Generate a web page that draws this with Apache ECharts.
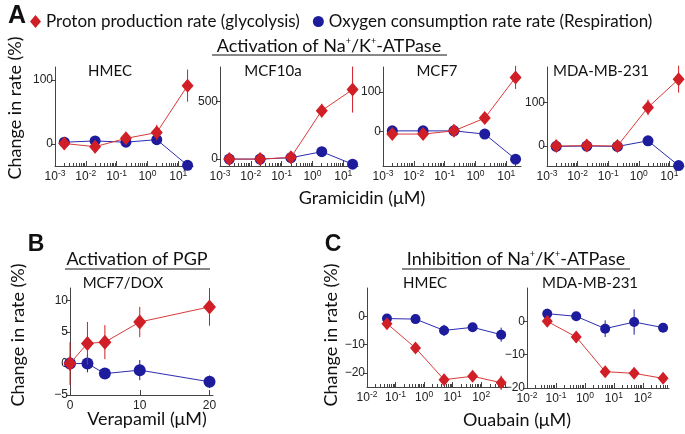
<!DOCTYPE html>
<html><head><meta charset="utf-8">
<script src="https://cdn.jsdelivr.net/npm/echarts@6/dist/echarts.min.js"></script>
<style>html,body{margin:0;padding:0;background:#fff}#c{width:685px;height:434px}</style>
</head><body><div id="c"></div>
<script>
// ---------- DATA ----------
const gramicidinDoses = [0.002, 0.02, 0.2, 2, 20];
const gramicidinTicks = [0.001, 0.01, 0.1, 1, 10];

const hmecProton = [1, -4, 9, 18, 91];
const hmecProtonErr = [10, 10, 7, 12, 25];
const hmecOxygen = [3, 5, 3, 7, -33];
const hmecOxygenErr = [3, 3, 3, 3, 3];

const mcf10aProton = [0, 0, 15, 421, 604];
const mcf10aProtonErr = [20, 20, 20, 60, 200];
const mcf10aOxygen = [0, 0, 12, 64, -44];
const mcf10aOxygenErr = [10, 10, 10, 15, 10];

const mcf7Proton = [-6, -6, 2, 34, 136];
const mcf7ProtonErr = [8, 8, 6, 10, 29];
const mcf7Oxygen = [2, 2, 2, -6, -69];
const mcf7OxygenErr = [4, 4, 4, 5, 6];

const mdaProton = [0, 1, 0, 89, 154];
const mdaProtonErr = [8, 8, 6, 18, 31];
const mdaOxygen = [-1, 0, -1, 12, -45];
const mdaOxygenErr = [4, 4, 4, 5, 5];

const verapamilDoses = [0, 2.5, 5, 10, 20];
const verapamilTicks = [0, 10, 20];
const pgpProton = [0, 3.2, 3.4, 6.6, 9.0];
const pgpProtonErr = [3.4, 3.4, 2.7, 2.4, 3.0];
const pgpOxygen = [0, 0, -1.6, -1.05, -2.9];
const pgpOxygenErr = [0.4, 1.4, 0.6, 1.6, 1.0];

const ouabainDoses = [0.05, 0.5, 5, 50, 500];
const ouabainTicks = [0.01, 0.1, 1, 10, 100];
const ouaHmecProton = [-2.6, -11.2, -22.4, -21.2, -23.5];
const ouaHmecProtonErr = [1.5, 2, 2, 1.5, 2.5];
const ouaHmecOxygen = [-0.8, -1, -5, -3.9, -6.5];
const ouaHmecOxygenErr = [1, 1.5, 2, 1, 2.5];
const ouaMdaProton = [0, -4.7, -15.1, -15.6, -17.1];
const ouaMdaProtonErr = [1.2, 1.5, 1.5, 1.5, 1.2];
const ouaMdaOxygen = [2.3, 1.5, -2.2, -0.2, -1.9];
const ouaMdaOxygenErr = [1.5, 1, 2.5, 3.8, 1.2];

const protonName = 'Proton production rate (glycolysis)';
const oxygenName = 'Oxygen consumption rate rate (Respiration)';

// ---------- LAYOUT ----------
const RED = '#d01f26', RED_LINE = '#d83a3a';
const BLUE = '#1c1c9c', BLUE_LINE = '#2b2bb0';
const AX = '#444';
const TXT = 'Lato, "Noto Sans", sans-serif';
const NUM = '"Liberation Sans", Arial, sans-serif';

const panels = [
  {grid:{left:55,top:67,width:138,height:99}, log:true, xMin:0.001, xMax:30, xTicks:gramicidinTicks, yMin:-34, yMax:120, yTicks:[0,100],
   x:gramicidinDoses, r:hmecProton, re:hmecProtonErr, b:hmecOxygen, be:hmecOxygenErr, ds:[12,14], cs:11},
  {grid:{left:220,top:67,width:138,height:99}, log:true, xMin:0.001, xMax:30, xTicks:gramicidinTicks, yMin:-60, yMax:800, yTicks:[0,500],
   x:gramicidinDoses, r:mcf10aProton, re:mcf10aProtonErr, b:mcf10aOxygen, be:mcf10aOxygenErr, ds:[12,14], cs:11},
  {grid:{left:383,top:67,width:138,height:99}, log:true, xMin:0.001, xMax:30, xTicks:gramicidinTicks, yMin:-86, yMax:162, yTicks:[0,100],
   x:gramicidinDoses, r:mcf7Proton, re:mcf7ProtonErr, b:mcf7Oxygen, be:mcf7OxygenErr, ds:[12,14], cs:11},
  {grid:{left:547,top:67,width:137,height:99}, log:true, xMin:0.001, xMax:30, xTicks:gramicidinTicks, yMin:-46, yMax:182, yTicks:[0,100],
   x:gramicidinDoses, r:mdaProton, re:mdaProtonErr, b:mdaOxygen, be:mdaOxygenErr, ds:[12,14], cs:11},
  {grid:{left:70,top:288,width:143,height:107}, log:false, xMin:0, xMax:20.5, xTicks:verapamilTicks, yMin:-5, yMax:12, yTicks:[-5,0,5,10],
   x:verapamilDoses, r:pgpProton, re:pgpProtonErr, b:pgpOxygen, be:pgpOxygenErr, ds:[13,15], cs:12},
  {grid:{left:367,top:288,width:140,height:99}, log:true, xMin:0.01, xMax:800, xTicks:ouabainTicks, yMin:-25, yMax:10, yTicks:[-20,-10,0],
   x:ouabainDoses, r:ouaHmecProton, re:ouaHmecProtonErr, b:ouaHmecOxygen, be:ouaHmecOxygenErr, ds:[11,13], cs:10},
  {grid:{left:527,top:288,width:142,height:100}, log:true, xMin:0.01, xMax:800, xTicks:ouabainTicks, yMin:-20, yMax:10, yTicks:[-20,-10,0],
   x:ouabainDoses, r:ouaMdaProton, re:ouaMdaProtonErr, b:ouaMdaOxygen, be:ouaMdaOxygenErr, ds:[11,13], cs:10}
];

const grids = [], xAxes = [], yAxes = [], series = [];
function errSeries(i, xs, ys, es, color, z) {
  return {type:'custom', xAxisIndex:i, yAxisIndex:i, z:z, silent:true, clip:false,
    data: xs.map((x, k) => [x, ys[k], es[k]]),
    renderItem: function (params, api) {
      const x = api.value(0), y = api.value(1), e = api.value(2);
      const p1 = api.coord([x, y - e]), p2 = api.coord([x, y + e]);
      return {type:'line', shape:{x1:p1[0], y1:p1[1], x2:p2[0], y2:p2[1]}, style:{stroke:color, lineWidth:1}};
    }};
}
panels.forEach((p, i) => {
  grids.push(Object.assign({containLabel:false}, p.grid));
  const supRich = {s:{fontSize:8.5, fontFamily:NUM, color:'#222', verticalAlign:'top', lineHeight:8}};
  xAxes.push({
    gridIndex:i, type: p.log ? 'log' : 'value', logBase:10, min:p.xMin, max:p.xMax,
    axisLine:{show:true, onZero:false, lineStyle:{color:AX, width:1}},
    axisTick:{show:true, inside:true, length:5, customValues:p.xTicks, lineStyle:{color:AX}},
    minorTick: p.log ? {show:true, splitNumber:9, length:3, lineStyle:{color:AX}} : {show:false},
    splitLine:{show:false},
    axisLabel:{customValues:p.xTicks, fontSize:12, fontFamily:NUM, color:'#222', margin:3, lineHeight:15,
      rich: supRich,
      formatter: p.log ? function (v) { const e = Math.round(Math.log10(v)); return '10{s|' + (e < 0 ? '-' + (-e) : e) + '}'; } : function (v) { return String(v); }}
  });
  yAxes.push({
    gridIndex:i, type:'value', min:p.yMin, max:p.yMax,
    axisLine:{show:true, onZero:false, lineStyle:{color:AX, width:1}},
    axisTick:{show:true, inside:false, length:4, customValues:p.yTicks, lineStyle:{color:AX}},
    splitLine:{show:false},
    axisLabel:{customValues:p.yTicks, fontSize:12, fontFamily:NUM, color:'#222', margin:2,
      formatter: function (v) { return v < 0 ? '\u2212' + (-v) : String(v); }}
  });
  series.push(errSeries(i, p.x, p.b, p.be, BLUE, 2));
  series.push({type:'line', name:oxygenName, xAxisIndex:i, yAxisIndex:i, z:3, symbol:'circle', symbolSize:p.cs,
    itemStyle:{color:BLUE}, lineStyle:{color:BLUE_LINE, width:1}, data:p.x.map((x, k) => [x, p.b[k]])});
  series.push(errSeries(i, p.x, p.r, p.re, RED, 4));
  series.push({type:'line', name:protonName, xAxisIndex:i, yAxisIndex:i, z:5, symbol:'diamond', symbolSize:p.ds,
    itemStyle:{color:RED}, lineStyle:{color:RED_LINE, width:1}, data:p.x.map((x, k) => [x, p.r[k]])});
});

function txt(text, x, y, size, opts) {
  opts = opts || {};
  return {type:'text', x:x, y:y, rotation: opts.rot || 0, silent:true,
    style:{text:text, fontSize:size, fontFamily: opts.font || TXT, fontWeight: opts.bold ? 'bold' : 'normal',
      fill:'#111', align:'center', verticalAlign:'middle', textAlign:'center', textVerticalAlign:'middle', rich: opts.rich}};
}
function uline(x1, x2, y) {
  return {type:'line', silent:true, shape:{x1:x1, y1:y, x2:x2, y2:y}, style:{stroke:'#111', lineWidth:1}};
}
const supT = {p:{fontSize:9, fontFamily:TXT, fill:'#111', verticalAlign:'top', lineHeight:9}};
const yTitle = 'Change in rate (%)';

const graphic = [
  txt('A', 17, 16, 25, {bold:true, font:NUM}),
  txt('B', 36, 245, 23, {bold:true, font:NUM}),
  txt('C', 333, 245, 23, {bold:true, font:NUM}),
  txt('Activation of Na{p|+}/K{p|+}-ATPase', 329, 46, 18, {rich:supT}),
  uline(212, 447, 55),
  txt('Activation of PGP', 137, 259, 18),
  uline(65, 210, 269),
  txt('Inhibition of Na{p|+}/K{p|+}-ATPase', 516, 259, 18, {rich:supT}),
  uline(402, 630, 269),
  txt('HMEC', 110, 71, 15), txt('MCF10a', 273, 71, 15), txt('MCF7', 437, 71, 15), txt('MDA-MB-231', 601, 71, 15),
  txt('MCF7/DOX', 123, 283, 15), txt('HMEC', 425, 283, 15), txt('MDA-MB-231', 590, 283, 15),
  txt('Gramicidin (\u03bcM)', 362, 198, 18), txt('Verapamil (\u03bcM)', 147, 419, 18), txt('Ouabain (\u03bcM)', 517, 420, 18),
  txt(yTitle, 15, 108, 18, {rot:Math.PI / 2}),
  txt(yTitle, 18, 335, 18, {rot:Math.PI / 2}),
  txt(yTitle, 331, 335, 18, {rot:Math.PI / 2})
];

const chart = echarts.init(document.getElementById('c'), null, {renderer:'canvas'});
chart.setOption({
  animation:false,
  backgroundColor:'#fff',
  legend:{left:25, top:8, itemWidth:11, itemHeight:13, itemGap:13, selectedMode:false,
    textStyle:{fontSize:17, fontFamily:TXT, color:'#111'},
    data:[{name:protonName, icon:'diamond', itemStyle:{color:RED}}, {name:oxygenName, icon:'circle', itemStyle:{color:BLUE}}]},
  grid:grids, xAxis:xAxes, yAxis:yAxes, series:series, graphic:graphic
});
</script></body></html>
